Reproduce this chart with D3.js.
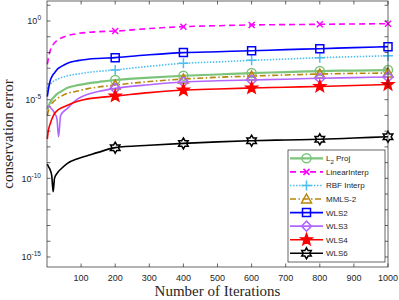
<!DOCTYPE html>
<html>
<head>
<meta charset="utf-8">
<script src="https://cdn.jsdelivr.net/npm/d3@7"></script>
<style>
  body { margin: 0; background: #fff; }
  svg { display: block; }
</style>
</head>
<body>
<svg id="chart"></svg>
<script>
// iteration grid the curves are sampled on
const iters = [1, 3, 10, 14, 18, 22, 29, 34, 40, 60, 90, 120, 150, 200, 300, 400, 500, 600, 700, 800, 900, 1000];
const markerIters = [200, 400, 600, 800, 1000];

// log10 of the conservation error
const l2Proj       = [-5.6, -5.5, -5.15, -5.0, -4.9, -4.8, -4.65, -4.57, -4.5, -4.25, -4.08, -3.96, -3.88, -3.75, -3.6, -3.48, -3.4, -3.31, -3.25, -3.18, -3.15, -3.12];
const linearInterp = [-2.75, -2.5, -1.84, -1.65, -1.5, -1.38, -1.25, -1.17, -1.1, -0.93, -0.8, -0.72, -0.68, -0.64, -0.48, -0.36, -0.3, -0.25, -0.23, -0.21, -0.19, -0.17];
const rbfInterp    = [-4.5, -4.2, -4.0, -3.92, -3.85, -3.8, -3.72, -3.67, -3.62, -3.48, -3.37, -3.27, -3.2, -3.11, -2.88, -2.69, -2.6, -2.5, -2.42, -2.33, -2.27, -2.21];
const mmls2        = [-6.0, -5.8, -5.4, -5.25, -5.15, -5.07, -4.95, -4.87, -4.8, -4.6, -4.45, -4.3, -4.2, -4.07, -3.85, -3.69, -3.58, -3.5, -3.43, -3.37, -3.33, -3.31];
const wls2         = [-4.8, -4.5, -3.75, -3.55, -3.4, -3.3, -3.1, -3.0, -2.92, -2.68, -2.52, -2.43, -2.38, -2.33, -2.15, -2.01, -1.95, -1.89, -1.82, -1.76, -1.69, -1.63];
const wls3         = [-5.4, -5.42, -5.5, -5.6, -5.7, -5.85, -6.2, -7.36, -6.0, -5.55, -4.95, -4.65, -4.48, -4.28, -4.05, -3.88, -3.8, -3.75, -3.7, -3.64, -3.6, -3.56];
const wls4         = [-7.5, -7.1, -6.5, -6.25, -6.05, -5.88, -5.72, -5.62, -5.55, -5.35, -5.1, -4.95, -4.87, -4.77, -4.55, -4.39, -4.32, -4.26, -4.21, -4.16, -4.1, -4.04];
const wls6         = [-9.1, -9.2, -9.5, -9.85, -10.85, -10.0, -9.7, -9.55, -9.42, -9.05, -8.75, -8.55, -8.35, -8.05, -7.9, -7.78, -7.68, -7.61, -7.56, -7.52, -7.44, -7.36];

const seriesNames = ["L\u2082 Proj", "LinearInterp", "RBF Interp", "MMLS-2", "WLS2", "WLS3", "WLS4", "WLS6"];
const seriesValues = [l2Proj, linearInterp, rbfInterp, mmls2, wls2, wls3, wls4, wls6];

const xTicks = [100, 200, 300, 400, 500, 600, 700, 800, 900, 1000];
const yTickExps = d3.range(-15, 2);
const yLabelExps = [0, -5, -10, -15];

const styles = [
  {color: "#7cc47c", width: 2.2, dash: null, marker: "circle"},
  {color: "#ff00ff", width: 1.6, dash: "6,4", marker: "times"},
  {color: "#4dbeee", width: 1.6, dash: "1.5,1.5", marker: "plus"},
  {color: "#b8860b", width: 1.6, dash: "6,2.5,1.5,2.5", marker: "triangle"},
  {color: "#0000ff", width: 1.6, dash: null, marker: "square"},
  {color: "#b266ff", width: 1.6, dash: null, marker: "diamond"},
  {color: "#ff0000", width: 1.6, dash: null, marker: "star"},
  {color: "#000000", width: 1.6, dash: null, marker: "hexagram"}
];

const width = 399, height = 300;
const margin = {left: 47, right: 11, top: 1, bottom: 33};
const axisColor = "#262626";

const svg = d3.select("#chart").attr("width", width).attr("height", height);

const x = d3.scaleLinear().domain([0, 1000]).range([margin.left, width - margin.right]);
const y = d3.scaleLog().domain([Math.pow(10, -15.636), Math.pow(10, 1.271)]).range([height - margin.bottom, margin.top]);

const plotL = margin.left, plotR = width - margin.right, plotT = margin.top, plotB = height - margin.bottom;

svg.append("rect")
  .attr("x", plotL).attr("y", plotT)
  .attr("width", plotR - plotL).attr("height", plotB - plotT)
  .attr("fill", "#fff");

// marker shapes
function markerPath(type, s) {
  const h = s / 2;
  if (type === "circle") return d3.symbol(d3.symbolCircle, Math.PI * h * h)();
  if (type === "square") return "M" + (-h) + "," + (-h) + "H" + h + "V" + h + "H" + (-h) + "Z";
  if (type === "diamond") return "M0," + (-h) + "L" + h + ",0L0," + h + "L" + (-h) + ",0Z";
  if (type === "triangle") return "M0," + (-h) + "L" + h + "," + (h * 0.8) + "L" + (-h) + "," + (h * 0.8) + "Z";
  if (type === "plus") return "M" + (-h) + ",0H" + h + "M0," + (-h) + "V" + h;
  if (type === "times") {
    const k = h * 0.75;
    return "M" + (-k) + "," + (-k) + "L" + k + "," + k + "M" + (-k) + "," + k + "L" + k + "," + (-k);
  }
  if (type === "star" || type === "hexagram") {
    const n = type === "star" ? 5 : 6;
    const inner = type === "star" ? h * 0.42 : h * 0.58;
    let pts = [];
    for (let i = 0; i < n * 2; i++) {
      const r = i % 2 === 0 ? h : inner;
      const a = -Math.PI / 2 + i * Math.PI / n;
      pts.push([r * Math.cos(a), r * Math.sin(a)]);
    }
    return "M" + pts.map(p => p[0].toFixed(2) + "," + p[1].toFixed(2)).join("L") + "Z";
  }
}

const markerSize = {circle: 9, times: 8, plus: 10, triangle: 10, square: 8, diamond: 10, star: 12, hexagram: 11};

function drawMarker(g, st, cx, cy) {
  const filled = st.marker === "star";
  g.append("path")
    .attr("d", markerPath(st.marker, markerSize[st.marker]))
    .attr("transform", "translate(" + cx + "," + cy + ")")
    .attr("fill", filled ? st.color : "none")
    .attr("stroke", st.color)
    .attr("stroke-width", 1.5)
    .attr("stroke-linejoin", "miter");
}

const line = d3.line()
  .x(d => x(d[0]))
  .y(d => y(Math.pow(10, d[1])))
  .curve(d3.curveMonotoneX);

const plot = svg.append("g");

seriesValues.forEach((vals, i) => {
  const st = styles[i];
  const pts = iters.map((it, j) => [it, vals[j]]);
  plot.append("path")
    .datum(pts)
    .attr("d", line)
    .attr("fill", "none")
    .attr("stroke", st.color)
    .attr("stroke-width", st.width)
    .attr("stroke-dasharray", st.dash);
  markerIters.forEach(it => {
    const j = iters.indexOf(it);
    drawMarker(plot, st, x(it), y(Math.pow(10, vals[j])));
  });
});

// axes box and ticks (inward, on all four sides)
const axes = svg.append("g").attr("stroke", axisColor).attr("stroke-width", 0.7).attr("fill", "none");
axes.append("rect")
  .attr("x", plotL).attr("y", plotT)
  .attr("width", plotR - plotL).attr("height", plotB - plotT);

const tickLen = 3.5;
xTicks.forEach(t => {
  axes.append("line").attr("x1", x(t)).attr("x2", x(t)).attr("y1", plotB).attr("y2", plotB - tickLen);
  axes.append("line").attr("x1", x(t)).attr("x2", x(t)).attr("y1", plotT).attr("y2", plotT + tickLen);
});
yTickExps.forEach(e => {
  const yy = y(Math.pow(10, e));
  axes.append("line").attr("x1", plotL).attr("x2", plotL + tickLen).attr("y1", yy).attr("y2", yy);
  axes.append("line").attr("x1", plotR).attr("x2", plotR - tickLen).attr("y1", yy).attr("y2", yy);
});

const font = "'Liberation Sans', Arial, Helvetica, sans-serif";

svg.append("g").selectAll("text")
  .data(xTicks)
  .enter()
  .append("text")
  .attr("x", d => x(d))
  .attr("y", plotB + 14)
  .attr("text-anchor", "middle")
  .style("font-family", font)
  .style("font-size", "9px")
  .style("fill", axisColor)
  .text(d => d);

const yLab = svg.append("g").selectAll("text")
  .data(yLabelExps)
  .enter()
  .append("text")
  .attr("x", plotL - 6)
  .attr("y", d => y(Math.pow(10, d)) + 3.5)
  .attr("text-anchor", "end")
  .style("font-family", font)
  .style("font-size", "9px")
  .style("fill", axisColor);
yLab.append("tspan").text("10");
yLab.append("tspan")
  .attr("dy", -4)
  .style("font-size", "6.5px")
  .text(d => d === 0 ? "0" : "-" + Math.abs(d));

const serif = "'Liberation Serif', 'Times New Roman', serif";
svg.append("text")
  .attr("x", (plotL + plotR) / 2)
  .attr("y", 295.5)
  .attr("text-anchor", "middle")
  .style("font-family", serif)
  .style("font-size", "15px")
  .style("fill", axisColor)
  .text("Number of Iterations");

svg.append("text")
  .attr("transform", "translate(12.5," + ((plotT + plotB) / 2) + ") rotate(-90)")
  .attr("text-anchor", "middle")
  .style("font-family", serif)
  .style("font-size", "15px")
  .style("fill", axisColor)
  .text("conservation error");

// legend
const legend = svg.append("g");
const legX = 288, legY = 150, legW = 97, legH = 112, rowH = 13.57, firstRow = 158.3;
legend.append("rect")
  .attr("x", legX).attr("y", legY).attr("width", legW).attr("height", legH)
  .attr("fill", "#fff").attr("stroke", axisColor).attr("stroke-width", 0.7);

seriesNames.forEach((name, i) => {
  const st = styles[i];
  const ly = firstRow + i * rowH;
  legend.append("line")
    .attr("x1", 290).attr("x2", 323).attr("y1", ly).attr("y2", ly)
    .attr("stroke", st.color)
    .attr("stroke-width", st.width)
    .attr("stroke-dasharray", st.dash);
  drawMarker(legend, st, 306.5, ly);
  const t = legend.append("text")
    .attr("x", 326)
    .attr("y", ly + 3)
    .style("font-family", font)
    .style("font-size", "8px")
    .style("fill", axisColor);
  if (i === 0) {
    t.append("tspan").text("L");
    t.append("tspan").attr("dy", 2.5).style("font-size", "6px").text("2");
    t.append("tspan").attr("dy", -2.5).text(" Proj");
  } else {
    t.text(name);
  }
});
</script>
</body>
</html>
